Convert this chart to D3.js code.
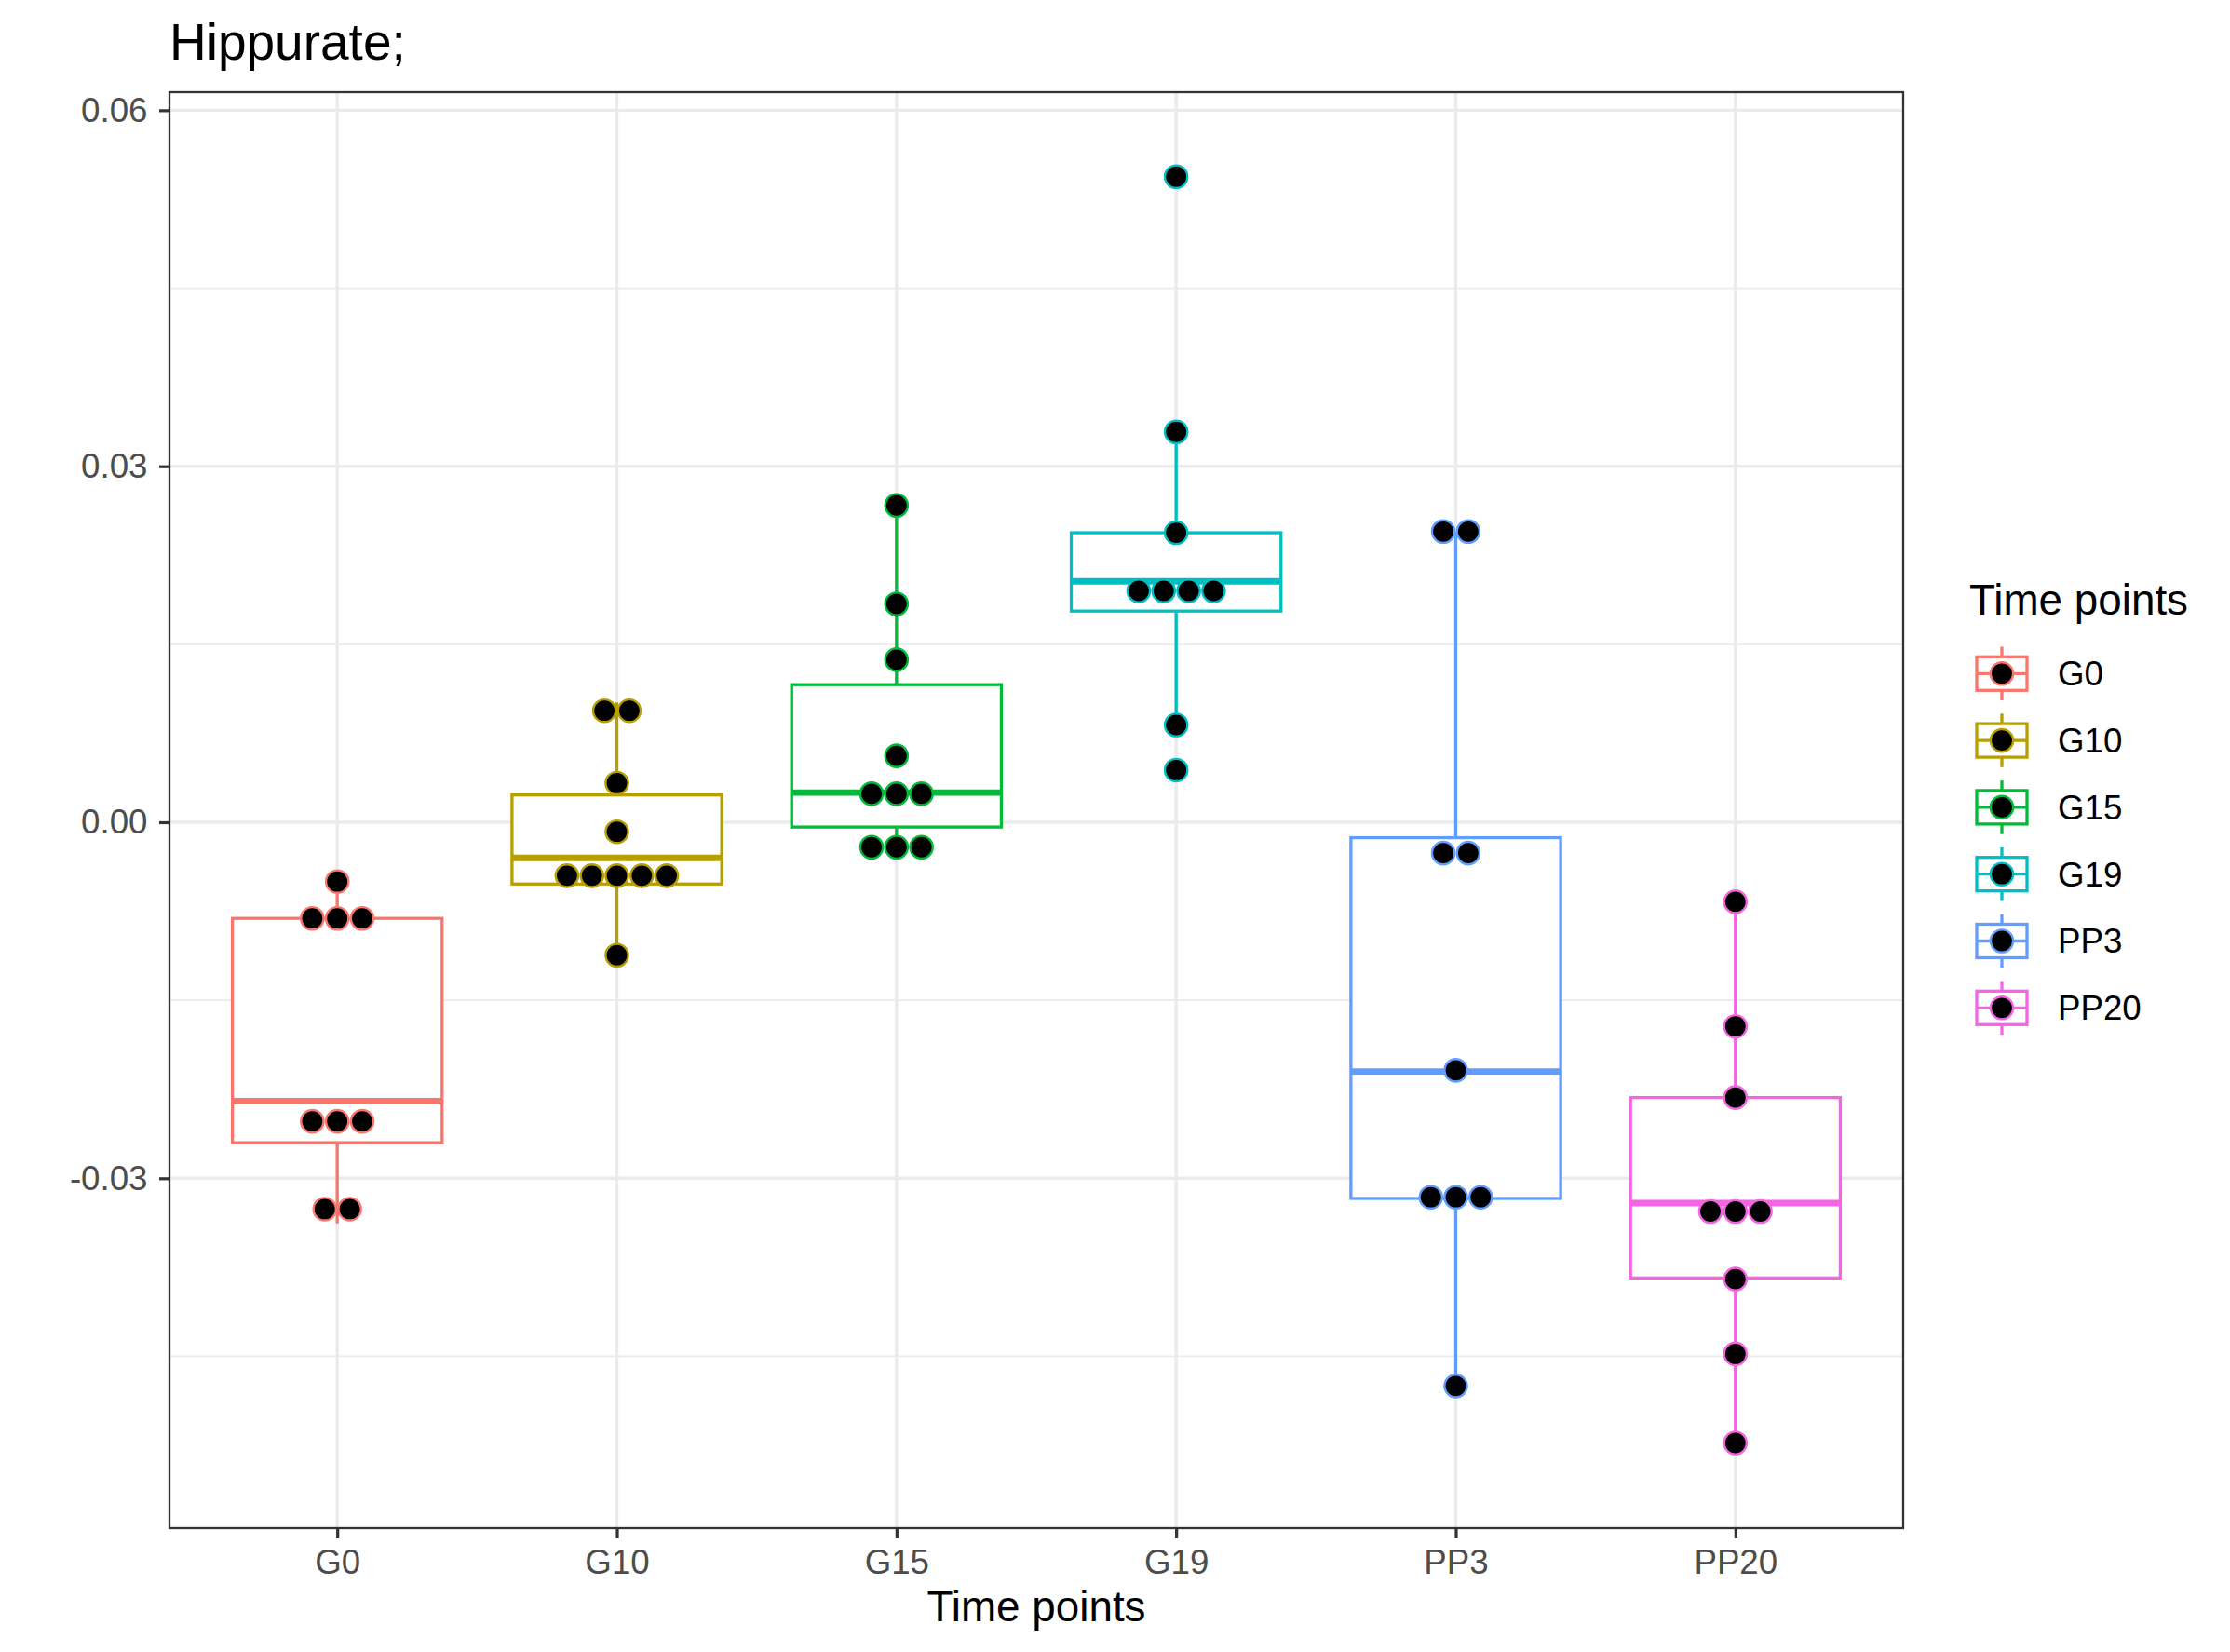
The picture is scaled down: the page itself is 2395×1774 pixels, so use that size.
<!DOCTYPE html>
<html><head><meta charset="utf-8">
<script src="https://cdn.jsdelivr.net/npm/d3@7"></script>
<style>
body{margin:0;background:#fff}
svg{display:block}
text{font-family:"Liberation Sans",Arial,Helvetica,sans-serif}
</style>
</head><body>
<svg id="chart" width="2395" height="1774"></svg>
<script>
// ---------- data ----------
const categories = ["G0","G10","G15","G19","PP3","PP20"];
const colors     = ["#F8766D","#B79F00","#00BA38","#00BFC4","#619CFF","#F564E3"];

// boxplot statistics
const q1          = [-0.0270, -0.0052, -0.0004, 0.0178, -0.0317, -0.0384];
const median      = [-0.0235, -0.0030,  0.0025, 0.0203, -0.0210, -0.0321];
const q3          = [-0.0081,  0.0023,  0.0116, 0.0244, -0.0013, -0.0232];
const whiskerLow  = [-0.0338, -0.0112, -0.0021, 0.0082, -0.0475, -0.0523];
const whiskerHigh = [-0.0050,  0.0101,  0.0267, 0.0329,  0.0245, -0.0067];
const outliers    = [[], [], [], [0.0544, 0.0044], [], []];

// dot positions (binned values) per group; equal values stack side by side
const dotsG0   = [-0.0050, -0.0081, -0.0081, -0.0081, -0.0252, -0.0252, -0.0252, -0.0326, -0.0326];
const dotsG10  = [0.0094, 0.0094, 0.0033, -0.0008, -0.0045, -0.0045, -0.0045, -0.0045, -0.0045, -0.0112];
const dotsG15  = [0.0267, 0.0184, 0.0137, 0.0056, 0.0024, 0.0024, 0.0024, -0.0021, -0.0021, -0.0021];
const dotsG19  = [0.0544, 0.0329, 0.0244, 0.0195, 0.0195, 0.0195, 0.0195, 0.0082, 0.0044];
const dotsPP3  = [0.0245, 0.0245, -0.0026, -0.0026, -0.0209, -0.0316, -0.0316, -0.0316, -0.0475];
const dotsPP20 = [-0.0067, -0.0172, -0.0232, -0.0328, -0.0328, -0.0328, -0.0385, -0.0448, -0.0523];
const dots = [dotsG0, dotsG10, dotsG15, dotsG19, dotsPP3, dotsPP20];

const yTicks      = [-0.03, 0.00, 0.03, 0.06];
const yTickLabels = ["-0.03", "0.00", "0.03", "0.06"];
const yMinor      = [-0.045, -0.015, 0.015, 0.045];

const title       = "Hippurate;";
const xTitle      = "Time points";
const legendTitle = "Time points";

// ---------- layout ----------
const P = {left:182, right:2044, top:99, bottom:1641};
const svg = d3.select("#chart");
svg.append("rect").attr("width",2395).attr("height",1774).attr("fill","#fff");

const x = d3.scalePoint().domain(categories).range([P.left, P.right]).padding(0.6);
const y = d3.scaleLinear().domain([-0.05948, 0.06152]).range([P.bottom, P.top]);
const boxW = x.step() * 0.75;
const lw = 3.3;
const dotR = 12.1, dotStroke = 2.4, dotDiam = 26.8;

const g = svg.append("g");

// grid
g.selectAll(".minor").data(yMinor).join("line")
  .attr("x1",P.left).attr("x2",P.right)
  .attr("y1",d=>y(d)).attr("y2",d=>y(d))
  .attr("stroke","#EBEBEB").attr("stroke-width",1.7);
g.selectAll(".majorY").data(yTicks).join("line")
  .attr("x1",P.left).attr("x2",P.right)
  .attr("y1",d=>y(d)).attr("y2",d=>y(d))
  .attr("stroke","#EBEBEB").attr("stroke-width",3.4);
g.selectAll(".majorX").data(categories).join("line")
  .attr("x1",d=>x(d)).attr("x2",d=>x(d))
  .attr("y1",P.top).attr("y2",P.bottom)
  .attr("stroke","#EBEBEB").attr("stroke-width",3.4);

// boxplots
categories.forEach((c,i)=>{
  const cx = x(c), col = colors[i];
  const bg = g.append("g");
  bg.append("line").attr("x1",cx).attr("x2",cx)
    .attr("y1",y(q3[i])).attr("y2",y(whiskerHigh[i]))
    .attr("stroke",col).attr("stroke-width",lw);
  bg.append("line").attr("x1",cx).attr("x2",cx)
    .attr("y1",y(q1[i])).attr("y2",y(whiskerLow[i]))
    .attr("stroke",col).attr("stroke-width",lw);
  bg.append("rect").attr("x",cx-boxW/2).attr("width",boxW)
    .attr("y",y(q3[i])).attr("height",y(q1[i])-y(q3[i]))
    .attr("fill","#fff").attr("stroke",col).attr("stroke-width",lw);
  bg.append("line").attr("x1",cx-boxW/2).attr("x2",cx+boxW/2)
    .attr("y1",y(median[i])).attr("y2",y(median[i]))
    .attr("stroke",col).attr("stroke-width",lw*2.1);
  bg.selectAll(".out").data(outliers[i]).join("circle")
    .attr("cx",cx).attr("cy",d=>y(d)).attr("r",6).attr("fill",col);
});

// dotplots
categories.forEach((c,i)=>{
  const cx = x(c), col = colors[i];
  const stacks = d3.rollups(dots[i], v=>v.length, d=>d);
  stacks.forEach(([val,count])=>{
    for(let k=0;k<count;k++){
      g.append("circle")
        .attr("cx", cx + (k-(count-1)/2)*dotDiam)
        .attr("cy", y(val))
        .attr("r", dotR)
        .attr("fill","#000").attr("stroke",col).attr("stroke-width",dotStroke);
    }
  });
});

// panel border
g.append("rect").attr("x",P.left).attr("y",P.top)
  .attr("width",P.right-P.left).attr("height",P.bottom-P.top)
  .attr("fill","none").attr("stroke","#333333").attr("stroke-width",2.3);

// axes
const yAxis = d3.axisLeft(y).tickValues(yTicks).tickFormat((d,i)=>yTickLabels[i])
  .tickSize(11).tickPadding(12.5);
const ya = svg.append("g").attr("transform",`translate(${P.left},0)`).call(yAxis);
ya.select(".domain").remove();
ya.selectAll(".tick line").attr("stroke","#333333").attr("stroke-width",3.2);
ya.selectAll(".tick text").attr("fill","#4D4D4D").attr("font-size",36.7)
  .attr("font-family",'"Liberation Sans",Arial,Helvetica,sans-serif');

const xAxis = d3.axisBottom(x).tickSize(11).tickPadding(12);
const xa = svg.append("g").attr("transform",`translate(0,${P.bottom})`).call(xAxis);
xa.select(".domain").remove();
xa.selectAll(".tick line").attr("stroke","#333333").attr("stroke-width",3.2);
xa.selectAll(".tick text").attr("fill","#4D4D4D").attr("font-size",36.7)
  .attr("font-family",'"Liberation Sans",Arial,Helvetica,sans-serif');

// titles
svg.append("text").attr("x",P.left).attr("y",64).attr("font-size",55).attr("fill","#000").text(title);
svg.append("text").attr("x",(P.left+P.right)/2).attr("y",1741).attr("text-anchor","middle")
  .attr("font-size",45.8).attr("fill","#000").text(xTitle);

// legend
const L = {x:2114, y0:723.3, step:71.8, key:72};
svg.append("text").attr("x",2115).attr("y",660).attr("font-size",45.8).attr("fill","#000").text(legendTitle);
categories.forEach((c,i)=>{
  const cy = L.y0 + i*L.step, cx = L.x + L.key/2, col = colors[i];
  const lg = svg.append("g");
  lg.append("line").attr("x1",cx).attr("x2",cx).attr("y1",cy-L.key*0.4).attr("y2",cy-L.key*0.25)
    .attr("stroke",col).attr("stroke-width",lw);
  lg.append("line").attr("x1",cx).attr("x2",cx).attr("y1",cy+L.key*0.25).attr("y2",cy+L.key*0.4)
    .attr("stroke",col).attr("stroke-width",lw);
  lg.append("rect").attr("x",L.x+L.key*0.125).attr("width",L.key*0.75)
    .attr("y",cy-L.key*0.25).attr("height",L.key*0.5)
    .attr("fill","#fff").attr("stroke",col).attr("stroke-width",lw);
  lg.append("line").attr("x1",L.x+L.key*0.125).attr("x2",L.x+L.key*0.875).attr("y1",cy).attr("y2",cy)
    .attr("stroke",col).attr("stroke-width",lw);
  lg.append("circle").attr("cx",cx).attr("cy",cy).attr("r",dotR)
    .attr("fill","#000").attr("stroke",col).attr("stroke-width",dotStroke);
  lg.append("text").attr("x",2210).attr("y",cy+12.8).attr("font-size",36.7).attr("fill","#000").text(c);
});
</script>
</body></html>
